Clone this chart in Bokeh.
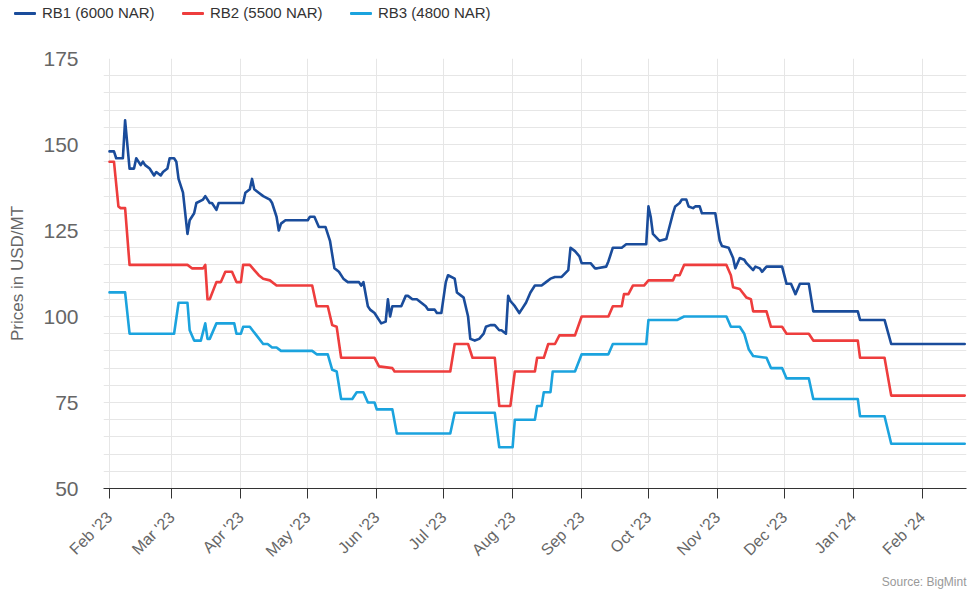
import math
import pandas as pd
from bokeh.plotting import figure
from bokeh.layouts import column
from bokeh.models import (Range1d, FixedTicker, Title, Div, ColumnDataSource)
from bokeh.embed import file_html
from bokeh.resources import INLINE

# ---------------- data ----------------
rb1_dates = ["2023-02-01", "2023-02-03", "2023-02-04", "2023-02-07", "2023-02-08", "2023-02-10",
             "2023-02-12", "2023-02-13", "2023-02-15", "2023-02-16", "2023-02-17", "2023-02-19",
             "2023-02-21", "2023-02-22", "2023-02-24", "2023-02-25", "2023-02-27", "2023-02-28",
             "2023-03-02", "2023-03-03", "2023-03-04", "2023-03-06", "2023-03-08", "2023-03-09",
             "2023-03-11", "2023-03-12", "2023-03-15", "2023-03-16", "2023-03-18", "2023-03-19",
             "2023-03-21", "2023-03-22", "2023-04-02", "2023-04-03", "2023-04-05", "2023-04-06",
             "2023-04-07", "2023-04-09", "2023-04-11", "2023-04-14", "2023-04-15", "2023-04-17",
             "2023-04-18", "2023-04-19", "2023-04-21", "2023-05-01", "2023-05-02", "2023-05-04",
             "2023-05-06", "2023-05-09", "2023-05-11", "2023-05-13", "2023-05-15", "2023-05-17",
             "2023-05-19", "2023-05-24", "2023-05-25", "2023-05-26", "2023-05-28", "2023-05-29",
             "2023-05-31", "2023-06-01", "2023-06-03", "2023-06-05", "2023-06-06", "2023-06-07",
             "2023-06-08", "2023-06-12", "2023-06-14", "2023-06-15", "2023-06-17", "2023-06-19",
             "2023-06-21", "2023-06-23", "2023-06-24", "2023-06-27", "2023-06-28", "2023-06-30",
             "2023-07-02", "2023-07-03", "2023-07-06", "2023-07-07", "2023-07-09", "2023-07-10",
             "2023-07-12", "2023-07-13", "2023-07-15", "2023-07-17", "2023-07-19", "2023-07-20",
             "2023-07-22", "2023-07-24", "2023-07-26", "2023-07-27", "2023-07-29", "2023-07-30",
             "2023-07-31", "2023-08-02", "2023-08-04", "2023-08-05", "2023-08-07", "2023-08-09",
             "2023-08-11", "2023-08-14", "2023-08-16", "2023-08-18", "2023-08-20", "2023-08-23",
             "2023-08-26", "2023-08-27", "2023-08-29", "2023-08-31", "2023-09-01", "2023-09-05",
             "2023-09-07", "2023-09-08", "2023-09-12", "2023-09-13", "2023-09-15", "2023-09-19",
             "2023-09-21", "2023-09-30", "2023-10-01", "2023-10-02", "2023-10-03", "2023-10-06",
             "2023-10-09", "2023-10-10", "2023-10-12", "2023-10-13", "2023-10-15", "2023-10-16",
             "2023-10-18", "2023-10-19", "2023-10-21", "2023-10-22", "2023-10-24", "2023-10-25",
             "2023-10-31", "2023-11-02", "2023-11-03", "2023-11-06", "2023-11-08", "2023-11-09",
             "2023-11-11", "2023-11-13", "2023-11-14", "2023-11-17", "2023-11-18", "2023-11-20",
             "2023-11-21", "2023-11-23", "2023-11-30", "2023-12-02", "2023-12-04", "2023-12-06",
             "2023-12-08", "2023-12-12", "2023-12-14", "2024-01-03", "2024-01-04", "2024-01-15",
             "2024-01-18", "2024-02-20"]
rb1_values = [148, 148, 146, 146, 157, 143,
              143, 146, 144, 145, 144, 143,
              141, 142, 141, 142, 143, 146,
              146, 145, 140, 136, 124, 128,
              130, 133, 134, 135, 133, 133,
              131, 133, 133, 136, 137, 140,
              137, 136, 135, 134, 133, 129,
              125, 127, 128, 128, 129, 129,
              126, 126, 122, 114, 113, 111,
              110, 110, 109, 110, 103, 102,
              101, 100, 98, 98.5, 105, 100,
              103, 103, 106, 106, 105, 105,
              104, 103, 102, 102, 101, 101,
              110, 112, 111, 107, 106, 105.5,
              100, 93.5, 93, 93.5, 95, 97,
              97.5, 97.5, 96, 96, 95, 106,
              104.5, 103, 101, 102, 104, 107,
              109, 109, 110, 111, 111.5, 111.5,
              113.5, 120, 119, 117.5, 115.5, 115.5,
              114, 114, 114.5, 116, 120, 120,
              121, 121, 132, 129, 124, 122,
              122.5, 125, 130, 132, 133, 134,
              134, 132, 131.5, 132, 132, 130,
              130, 122, 120.5, 120, 117, 114,
              117, 116.5, 115.5, 113.5, 114.5, 114,
              113, 114.5, 114.5, 109.5, 109.5, 106.5,
              109.5, 109.5, 101.5, 101.5, 99, 99,
              92, 92]

rb2_dates = ["2023-02-01", "2023-02-03", "2023-02-05", "2023-02-06", "2023-02-08", "2023-02-10",
             "2023-03-08", "2023-03-10", "2023-03-15", "2023-03-16", "2023-03-17", "2023-03-18",
             "2023-03-21", "2023-03-23", "2023-03-25", "2023-03-28", "2023-03-30", "2023-04-01",
             "2023-04-02", "2023-04-05", "2023-04-07", "2023-04-09", "2023-04-11", "2023-04-14",
             "2023-04-17", "2023-05-03", "2023-05-05", "2023-05-10", "2023-05-12", "2023-05-14",
             "2023-05-16", "2023-05-31", "2023-06-02", "2023-06-08", "2023-06-09", "2023-07-04",
             "2023-07-06", "2023-07-12", "2023-07-14", "2023-07-24", "2023-07-26", "2023-07-31",
             "2023-08-02", "2023-08-11", "2023-08-12", "2023-08-15", "2023-08-17", "2023-08-20",
             "2023-08-22", "2023-08-29", "2023-09-01", "2023-09-13", "2023-09-15", "2023-09-19",
             "2023-09-20", "2023-09-22", "2023-09-24", "2023-09-29", "2023-10-01", "2023-10-12",
             "2023-10-13", "2023-10-15", "2023-10-17", "2023-11-05", "2023-11-07", "2023-11-08",
             "2023-11-11", "2023-11-14", "2023-11-16", "2023-11-17", "2023-11-23", "2023-11-25",
             "2023-11-30", "2023-12-02", "2023-12-12", "2023-12-14", "2024-01-03", "2024-01-04",
             "2024-01-15", "2024-01-18", "2024-02-20"]
rb2_values = [145, 145, 132, 131.5, 131.5, 115,
              115, 114, 114, 115, 105, 105,
              110, 110, 113, 113, 110, 110,
              115, 115, 113.5, 112, 111, 110.5,
              109, 109, 103, 103, 97.5, 97,
              88, 88, 85.5, 85, 84, 84,
              92, 92, 88, 88, 74, 74,
              84, 84, 88, 88, 92, 92,
              94.5, 94.5, 100, 100, 103, 103,
              106.5, 106.5, 109, 109, 110.5, 110.5,
              112, 112, 115, 115, 112, 108.5,
              108, 105.5, 105, 101.5, 101.5, 97,
              97, 95, 95, 93, 93, 88,
              88, 77, 77]

rb3_dates = ["2023-02-01", "2023-02-08", "2023-02-10", "2023-03-02", "2023-03-04", "2023-03-08",
             "2023-03-09", "2023-03-11", "2023-03-14", "2023-03-16", "2023-03-17", "2023-03-18",
             "2023-03-21", "2023-03-29", "2023-03-30", "2023-04-01", "2023-04-02", "2023-04-05",
             "2023-04-08", "2023-04-11", "2023-04-13", "2023-04-15", "2023-04-17", "2023-04-19",
             "2023-05-03", "2023-05-05", "2023-05-10", "2023-05-12", "2023-05-14", "2023-05-16",
             "2023-05-21", "2023-05-23", "2023-05-26", "2023-05-28", "2023-05-31", "2023-06-01",
             "2023-06-08", "2023-06-10", "2023-07-04", "2023-07-06", "2023-07-24", "2023-07-26",
             "2023-08-01", "2023-08-02", "2023-08-11", "2023-08-12", "2023-08-14", "2023-08-15",
             "2023-08-18", "2023-08-19", "2023-08-29", "2023-09-01", "2023-09-13", "2023-09-15",
             "2023-09-30", "2023-10-01", "2023-10-14", "2023-10-17", "2023-11-05", "2023-11-07",
             "2023-11-11", "2023-11-13", "2023-11-15", "2023-11-17", "2023-11-23", "2023-11-25",
             "2023-11-30", "2023-12-02", "2023-12-12", "2023-12-14", "2024-01-03", "2024-01-04",
             "2024-01-15", "2024-01-18", "2024-02-20"]
rb3_values = [107, 107, 95, 95, 104, 104,
              96, 93, 93, 98, 93.5, 93.5,
              98, 98, 95, 95, 97, 97,
              94.5, 92, 92, 91, 91, 90,
              90, 89, 89, 84.5, 84, 76,
              76, 78, 78, 75, 75, 73,
              73, 66, 66, 72, 72, 62,
              62, 70, 70, 74, 74, 78,
              78, 84, 84, 89, 89, 92,
              92, 99, 99, 100, 100, 97,
              97, 95, 90.5, 88.5, 88, 85,
              85, 82, 82, 76, 76, 71,
              71, 63, 63]

series_names = ["RB1 (6000 NAR)", "RB2 (5500 NAR)", "RB3 (4800 NAR)"]
series_colors = ["#1a4c9b", "#ee3d3d", "#1ba3de"]

month_ticks = ["2023-02-01", "2023-03-01", "2023-04-01", "2023-05-01", "2023-06-01",
               "2023-07-01", "2023-08-01", "2023-09-01", "2023-10-01", "2023-11-01",
               "2023-12-01", "2024-01-01", "2024-02-01"]
month_labels = ["Feb '23", "Mar '23", "Apr '23", "May '23", "Jun '23", "Jul '23",
                "Aug '23", "Sep '23", "Oct '23", "Nov '23", "Dec '23", "Jan '24", "Feb '24"]
y_ticks = [50, 75, 100, 125, 150, 175]
y_grid_ticks = [50, 55, 60, 65, 70, 75, 80, 85, 90, 95, 100, 105, 110, 115, 120,
                125, 130, 135, 140, 145, 150, 155, 160, 165, 170, 175]
source_text = "Source: BigMint"


def to_ms(d):
    return (pd.Timestamp(d) - pd.Timestamp("1970-01-01")) / pd.Timedelta(milliseconds=1)


DAY = 86400000.0
x_start = to_ms("2023-02-01") - 2.7 * DAY
x_end = x_start + 387.5 * DAY

FONT = "Liberation Sans"
W = 970
LEGEND_H = 43

series = [(rb1_dates, rb1_values), (rb2_dates, rb2_values), (rb3_dates, rb3_values)]
sources = [ColumnDataSource(data=dict(x=pd.to_datetime(d), y=v)) for d, v in series]

# ---------------- main chart ----------------
p = figure(width=W, height=594 - LEGEND_H, x_axis_type="datetime",
           x_range=Range1d(x_start, x_end), y_range=Range1d(50, 175),
           output_backend="svg", toolbar_location=None,
           min_border_left=103, min_border_right=4, min_border_top=15, min_border_bottom=106)
p.outline_line_color = None
p.background_fill_color = None
p.border_fill_color = None

month_ms = [to_ms(d) for d in month_ticks]
p.xgrid.ticker = FixedTicker(ticks=month_ms)
p.ygrid.ticker = FixedTicker(ticks=y_grid_ticks)
p.xgrid.grid_line_color = "#e6e6e6"
p.ygrid.grid_line_color = "#e6e6e6"

xa = p.xaxis[0]
xa.ticker = FixedTicker(ticks=month_ms)
xa.major_label_overrides = {ms: lab for ms, lab in zip(month_ms, month_labels)}
xa.major_label_orientation = math.pi / 4
xa.axis_line_color = "#333333"
xa.major_tick_line_color = "#333333"
xa.major_tick_out = 10
xa.major_tick_in = 0
xa.minor_tick_line_color = None
xa.major_label_text_font = FONT
xa.major_label_text_font_size = "16px"
xa.major_label_text_color = "#666666"
xa.major_label_standoff = 16

ya = p.yaxis[0]
ya.ticker = FixedTicker(ticks=y_ticks)
ya.axis_line_color = None
ya.major_tick_line_color = None
ya.minor_tick_line_color = None
ya.major_tick_out = 0
ya.major_tick_in = 0
ya.major_label_standoff = 25
ya.major_label_text_font = FONT
ya.major_label_text_font_size = "21px"
ya.major_label_text_color = "#666666"
ya.axis_label = "Prices in USD/MT"
ya.axis_label_text_font = FONT
ya.axis_label_text_font_style = "normal"
ya.axis_label_text_font_size = "17px"
ya.axis_label_text_color = "#666666"
ya.axis_label_standoff = 13

for src, color in zip(sources, series_colors):
    p.line(x="x", y="y", source=src, line_color=color, line_width=2.6,
           line_join="round", line_cap="round")

src_title = Title(text=source_text, align="right", text_font=FONT, text_font_size="12px",
                  text_font_style="normal", text_color="#999999", standoff=8)
p.add_layout(src_title, "below")

# ---------------- legend strip above the chart ----------------
item_left = [14, 182, 350]
parts = []
for name, color, left in zip(series_names, series_colors, item_left):
    parts.append(
        f'<span style="position:absolute;left:{left}px;top:12px;width:22px;height:3px;'
        f'background:{color};border-radius:1px;"></span>'
        f'<span style="position:absolute;left:{left + 28}px;top:4px;line-height:18px;'
        f'white-space:nowrap;">{name}</span>')
legend_html = ('<div style="position:relative;width:%dpx;height:%dpx;font-family:\'%s\';'
               'font-size:15px;color:#333333;">%s</div>' % (W, LEGEND_H, FONT, "".join(parts)))
legend_div = Div(text=legend_html, width=W, height=LEGEND_H, margin=0)

layout = column(legend_div, p, spacing=0)
open("out.html", "w").write(file_html(layout, INLINE))
